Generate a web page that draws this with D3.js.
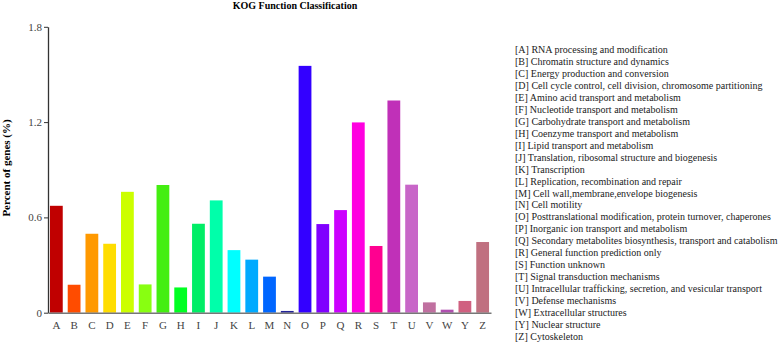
<!DOCTYPE html>
<html>
<head>
<meta charset="utf-8">
<script src="https://cdn.jsdelivr.net/npm/d3@7"></script>
<style>
  body { margin: 0; background: #fff; }
  svg text { font-family: "Liberation Serif", "Times New Roman", serif; }
</style>
</head>
<body>
<script>
// data
const codes = ["A","B","C","D","E","F","G","H","I","J","K","L","M","N","O","P","Q","R","S","T","U","V","W","Y","Z"];
const percents = [0.673,0.176,0.497,0.434,0.761,0.178,0.804,0.159,0.56,0.707,0.394,0.334,0.227,0.011,1.554,0.558,0.646,1.198,0.42,1.336,0.806,0.065,0.019,0.074,0.445];
const barColors = ["#c00000","#ff4c00","#ff9900","#ffdd00","#ccff00","#88ff11","#44ee11","#00ff22","#00ee66","#00ffaa",
                   "#00ffff","#00aaff","#0066ff","#222299","#3300ff","#8000ff","#cc00ff","#ff00e0","#ff0090","#c030b8",
                   "#c866c8","#c070a0","#b050b0","#d06080","#c07080"];
const descriptions = [
  "RNA processing and modification",
  "Chromatin structure and dynamics",
  "Energy production and conversion",
  "Cell cycle control, cell division, chromosome partitioning",
  "Amino acid transport and metabolism",
  "Nucleotide transport and metabolism",
  "Carbohydrate transport and metabolism",
  "Coenzyme transport and metabolism",
  "Lipid transport and metabolism",
  "Translation, ribosomal structure and biogenesis",
  "Transcription",
  "Replication, recombination and repair",
  "Cell wall,membrane,envelope biogenesis",
  "Cell motility",
  "Posttranslational modification, protein turnover, chaperones",
  "Inorganic ion transport and metabolism",
  "Secondary metabolites biosynthesis, transport and catabolism",
  "General function prediction only",
  "Function unknown",
  "Signal transduction mechanisms",
  "Intracellular trafficking, secretion, and vesicular transport",
  "Defense mechanisms",
  "Extracellular structures",
  "Nuclear structure",
  "Cytoskeleton"
];
const yTicks = [0, 0.6, 1.2, 1.8];

const svgSize = {width: 778, height: 345};
const serif = "'Liberation Serif', 'Times New Roman', serif";

let svg = d3.select("body")
            .append("svg")
            .attr("width", svgSize.width)
            .attr("height", svgSize.height);

// scales
var x = d3.scaleBand()
          .domain(codes)
          .range([48, 491])
          .paddingInner(0.28)
          .paddingOuter(0.11);

var y = d3.scaleLinear()
          .domain([0, 1.8])
          .range([312.7, 26.8]);

// bars
svg.selectAll(".bar")
   .data(codes)
   .enter()
   .append("rect")
   .attr("class", "bar")
   .attr("x", d => x(d))
   .attr("width", x.bandwidth())
   .attr("y", (d,i) => y(percents[i]))
   .attr("height", (d,i) => y(0) - y(percents[i]))
   .attr("fill", (d,i) => barColors[i]);

// y axis
let yAxis = svg.append("g")
   .attr("transform", "translate(48,0)")
   .call(d3.axisLeft(y).tickValues(yTicks).tickFormat(d => d === 0 ? "0" : d3.format(".1f")(d)).tickSize(4).tickSizeOuter(0))
   .attr("font-family", serif)
   .attr("font-size", 11);
yAxis.select(".domain").attr("stroke", "#333").attr("stroke-width", 1.3);
yAxis.selectAll(".tick line").attr("stroke", "#333");
yAxis.selectAll(".tick text")
     .attr("fill", "#444")
     .attr("x", -6);

// x axis
let xAxis = svg.append("g")
   .attr("transform", `translate(0,${y(0)})`)
   .call(d3.axisBottom(x).tickSize(0).tickSizeOuter(0))
   .attr("font-family", serif)
   .attr("font-size", 11);
xAxis.select(".domain").attr("stroke", "#777").attr("stroke-width", 1.5);
xAxis.selectAll(".tick text")
     .attr("fill", "#444")
     .attr("y", 9);

// title
svg.append("text")
   .attr("x", 295)
   .attr("y", 9)
   .attr("text-anchor", "middle")
   .style("font-weight", "bold")
   .style("font-size", "10px")
   .text("KOG Function Classification");

// y label
svg.append("text")
   .attr("transform", "translate(10,168) rotate(-90)")
   .attr("text-anchor", "middle")
   .style("font-weight", "bold")
   .style("font-size", "11px")
   .text("Percent of genes (%)");

// legend
svg.append("g")
   .selectAll("text")
   .data(codes)
   .enter()
   .append("text")
   .attr("x", 515)
   .attr("y", (d,i) => 53 + i * 11.96)
   .style("font-size", "10px")
   .attr("fill", "#222")
   .text((d,i) => `[${d}] ${descriptions[i]}`);
</script>
</body>
</html>
